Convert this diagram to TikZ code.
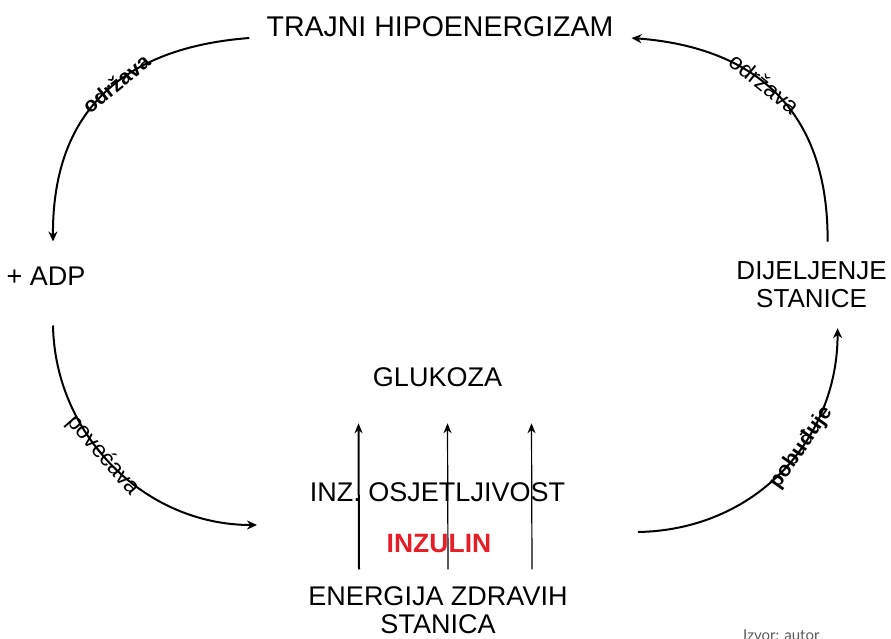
\documentclass[tikz,border=0pt]{standalone}
\usepackage{fontspec}
\setmainfont{Liberation Sans}
\newfontfamily\latofont{Lato}
\usetikzlibrary{arrows.meta,calc}

\tikzset{
  lbl/.style={font=\fontsize{27}{28}\selectfont, inner sep=0pt, align=center},
  arc/.style={line width=2pt, -{Stealth[length=10pt,width=9pt]}},
  arclbl/.style={font=\fontsize{23}{25}\selectfont, sloped, inner sep=0pt},
  arcbold/.style={arclbl, font=\fontsize{21}{23}\selectfont\bfseries},
  uparrow/.style={line width=1.2pt, -{Stealth[length=10pt,width=8pt]}}
}

\begin{document}
\begin{tikzpicture}[x=1pt,y=-1pt]
    \useasboundingbox (0,0) rectangle (891,638);

    % Cycle nodes
    \node[lbl, font=\fontsize{28.5}{28}\selectfont] (hipo) at (440,27) {TRAJNI HIPOENERGIZAM};
    \node[lbl] (adp) at (46,276) {+ ADP};
    \node[lbl, font=\fontsize{26}{28}\selectfont] (dij) at (811.6,284.9) {DIJELJENJE\\STANICE};

    % Centre
    \node[lbl] (gluk) at (437.5,377.5) {GLUKOZA};
    \node[lbl] (osj) at (437.5,492.5) {INZ. OSJETLJIVOST};
    \node[lbl, text={rgb,255:red,230;green,30;blue,40}, font=\fontsize{26.5}{28}\selectfont\bfseries] (inz) at (439,544) {INZULIN};
    \node[lbl] (energ) at (438,610) {ENERGIJA ZDRAVIH\\STANICA};
    \coordinate (midL) at (257,525);
    \coordinate (midR) at (638,532);

    % Arcs
    \draw[arc] ([xshift=-17pt,yshift=-11pt]hipo.west) .. controls +(-93,7) and +(-1,-157) .. ([xshift=7pt,yshift=25pt]adp.north)
        node[arcbold, pos=0.5] (odrL) {održava};
    \draw[arc] ([xshift=16pt,yshift=20pt]dij.north) .. controls +(1,-157) and +(93,7) .. ([xshift=18pt,yshift=-11pt]hipo.east)
        node[arclbl, pos=0.5] (odrR) {održava};
    \draw[arc] ([xshift=7pt,yshift=-40pt]adp.south) .. controls +(2,110) and +(-112,0) .. (midL)
        node[arclbl, pos=0.45] (pov) {povećava};
    \draw[arc] (midR) .. controls +(117,-2) and +(0,112) .. ([xshift=26pt,yshift=-20pt]dij.south)
        node[arcbold, pos=0.6] (pob) {pobuđuje};

    % Upward arrows
    \foreach \dx/\w in {-79/2.0, 10/1.2, 94/1.2}
        \draw[uparrow, line width=\w pt] ([xshift=\dx pt,yshift=17pt]energ.north) -- ([xshift=\dx pt,yshift=-36pt]gluk.south);

    \node[anchor=base west, inner sep=0pt, font=\latofont\fontsize{15}{17}\selectfont, text=black!65] (izvor) at (743,640) {Izvor: autor};
\end{tikzpicture}
\end{document}
